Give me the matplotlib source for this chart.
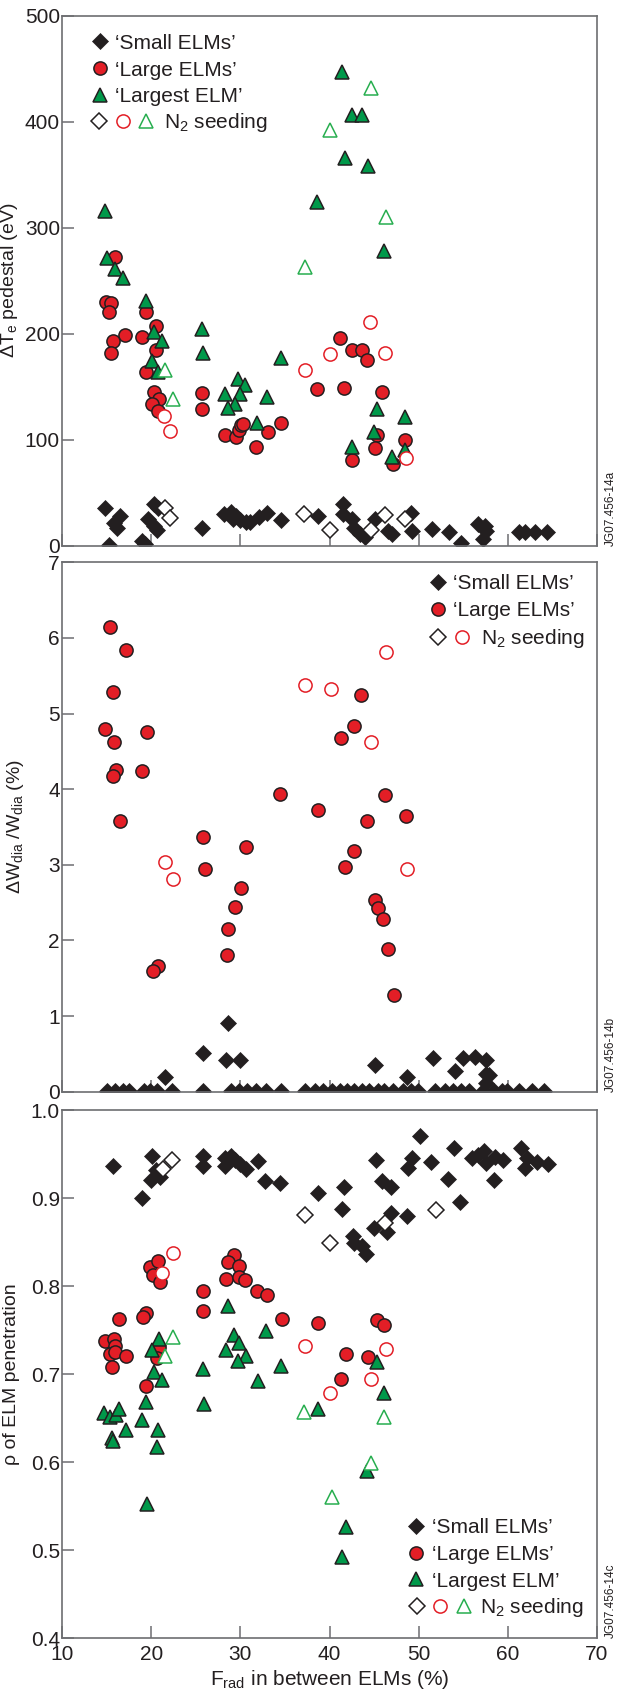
import matplotlib
matplotlib.use("Agg")
import matplotlib.pyplot as plt
from matplotlib.lines import Line2D
from matplotlib.legend_handler import HandlerTuple

plt.rcParams['font.family'] = ['Liberation Sans', 'DejaVu Sans']
plt.rcParams['mathtext.fontset'] = 'custom'
plt.rcParams['mathtext.rm'] = 'Liberation Sans'
plt.rcParams['mathtext.it'] = 'Liberation Sans:italic'
plt.rcParams['mathtext.default'] = 'regular'

# ---- panel a: delta Te pedestal (eV) ----
small_x1 = [14.8, 16.5, 15.8, 16.2, 15.3, 20.3, 20.8, 19.6, 20.3, 20.7, 19.0, 19.3, 25.7,
            28.2, 28.9, 29.5, 30.0, 30.6, 29.2, 31.1, 32.1, 33.0, 34.6, 38.7, 41.5, 41.5,
            42.5, 42.8, 43.4, 44.0, 45.1, 46.6, 47.0, 49.1, 49.2, 51.5, 53.4, 54.7, 56.7,
            57.4, 57.6, 57.2, 61.3, 61.9, 63.0, 64.4]
small_y1 = [36, 28, 21, 17, 1, 39, 36, 25, 19, 15, 4, 2, 17,
            30, 32, 28, 24, 22, 25, 22, 27, 31, 24, 28, 39, 30,
            25, 17, 11, 8, 25, 14, 11, 31, 14, 16, 13, 3, 20,
            19, 14, 6, 13, 13, 13, 13]
small_n2_x1 = [21.5, 22.1, 37.1, 40.1, 44.7, 46.2, 48.5]
small_n2_y1 = [36, 26, 30, 15, 15, 29, 25]

large_x1 = [14.9, 15.5, 15.3, 15.96, 19.46, 20.58, 17.08, 18.96, 15.73, 15.5, 20.58, 19.37,
            20.27, 20.9, 20.1, 20.76, 25.7, 25.7, 28.25, 29.5, 29.86, 30.1, 30.3, 31.74,
            33.05, 34.57, 38.6, 41.2, 41.65, 42.5, 43.7, 44.2, 45.9, 45.3, 45.1, 42.55,
            47.1, 48.5]
large_y1 = [230, 229, 220, 272, 220, 207, 199, 197, 193, 182, 185, 164,
            145, 138, 134, 127, 144, 129, 104, 103, 109, 114, 115, 93,
            107, 116, 148, 196, 149, 185, 185, 175, 145, 104, 92, 81,
            77, 100]
large_n2_x1 = [44.5, 40.1, 46.2, 37.3, 21.4, 22.1, 48.6]
large_n2_y1 = [211, 181, 182, 166, 122, 108, 83]

largest_x1 = [41.4, 42.5, 43.7, 41.75, 44.3, 38.6, 14.8, 46.1, 15.06, 15.96, 16.86, 19.4,
              20.36, 21.2, 20.04, 20.8, 25.74, 25.76, 34.57, 29.73, 30.5, 28.3, 30.0, 29.4,
              28.6, 33.0, 31.9, 45.3, 45.0, 48.5, 42.55, 47.0, 48.5]
largest_y1 = [447, 406, 406, 366, 358, 324, 316, 278, 271, 261, 253, 231,
              202, 193, 174, 164, 204, 182, 177, 157, 152, 143, 143, 134,
              130, 140, 116, 129, 107, 121, 93, 84, 90]
largest_n2_x1 = [44.7, 40.0, 46.3, 37.2, 21.57, 22.4]
largest_n2_y1 = [432, 392, 310, 263, 166, 138]

# ---- panel b: delta W_dia / W_dia (%) ----
small_x2 = [15.1, 15.9, 16.8, 17.5, 19.2, 19.9, 20.6, 22.3, 25.8, 29.0, 29.9, 30.8, 31.8,
            32.9, 34.6, 37.3, 38.4, 39.3, 40.3, 41.2, 42.0, 42.7, 43.7, 44.4, 45.4, 46.1,
            47.1, 48.2, 49.1, 49.9, 51.8, 52.9, 53.9, 54.8, 55.7, 57.2, 58.4, 59.3, 59.9,
            61.2, 62.7, 64.0,
            28.65, 25.83, 28.43, 29.95, 21.57, 45.1, 48.7, 51.56, 54.07, 54.97, 56.3, 57.6,
            57.5, 57.9, 57.5]
small_y2 = [0.01] * 42 + [0.91, 0.51, 0.42, 0.42, 0.19, 0.35, 0.19, 0.45, 0.27, 0.44,
                          0.46, 0.42, 0.23, 0.22, 0.12]

large_x2 = [15.42, 17.17, 15.69, 14.84, 19.55, 15.87, 16.05, 15.69, 18.96, 16.55, 25.8,
            34.43, 38.74, 43.54, 42.73, 41.3, 46.23, 44.2, 48.6, 26.05, 30.67, 30.09, 29.41,
            28.6, 28.5, 20.8, 20.2, 41.75, 42.7, 45.1, 45.4, 46.0, 46.6, 47.27]
large_y2 = [6.14, 5.84, 5.29, 4.80, 4.75, 4.63, 4.25, 4.17, 4.24, 3.58, 3.37,
            3.94, 3.72, 5.25, 4.84, 4.68, 3.92, 3.58, 3.65, 2.94, 3.24, 2.69, 2.44,
            2.15, 1.81, 1.66, 1.59, 2.97, 3.18, 2.54, 2.43, 2.29, 1.89, 1.28]
large_n2_x2 = [37.26, 40.2, 46.3, 44.6, 21.57, 22.4, 48.7]
large_n2_y2 = [5.38, 5.32, 5.82, 4.63, 3.04, 2.81, 2.95]

# ---- panel c: rho of ELM penetration ----
small_x3 = [15.73, 20.1, 19.0, 20.5, 20.0, 21.0, 25.83, 25.83, 28.3, 28.9, 28.3, 29.4, 30.0,
            30.6, 32.0, 32.8, 34.5, 38.74, 41.66, 41.4, 42.6, 42.8, 43.6, 44.1, 45.0, 45.17,
            45.9, 46.5, 46.87, 46.87, 48.7, 48.76, 49.25, 50.2, 51.4, 53.3, 53.98, 54.6,
            56.0, 56.6, 57.3, 57.6, 58.5, 58.6, 59.5, 61.5, 61.9, 62.2, 63.3, 64.5]
small_y3 = [0.936, 0.948, 0.900, 0.932, 0.920, 0.924, 0.948, 0.936, 0.946, 0.948, 0.936, 0.943,
            0.939, 0.933, 0.942, 0.919, 0.917, 0.906, 0.913, 0.888, 0.857, 0.849, 0.846, 0.837,
            0.866, 0.943, 0.919, 0.862, 0.913, 0.883, 0.880, 0.934, 0.945, 0.970, 0.941, 0.922,
            0.957, 0.895, 0.946, 0.949, 0.953, 0.940, 0.921, 0.947, 0.943, 0.957, 0.934, 0.946,
            0.941, 0.939]
small_n2_x3 = [21.3, 22.3, 37.26, 40.1, 46.2, 51.95]
small_n2_y3 = [0.933, 0.943, 0.881, 0.849, 0.872, 0.886]

large_x3 = [29.3, 28.6, 29.86, 28.43, 29.86, 30.5, 31.9, 33.0, 25.83, 25.83, 34.7, 38.74,
            19.9, 20.8, 20.2, 21.0, 16.4, 19.4, 19.1, 14.84, 15.83, 15.9, 15.42, 15.96, 17.2,
            15.65, 20.9, 20.67, 19.46, 41.84, 44.3, 41.3, 45.33, 46.14]
large_y3 = [0.835, 0.827, 0.823, 0.808, 0.810, 0.807, 0.794, 0.790, 0.794, 0.772, 0.763, 0.758,
            0.822, 0.828, 0.813, 0.805, 0.763, 0.770, 0.765, 0.738, 0.740, 0.732, 0.723, 0.725,
            0.721, 0.708, 0.731, 0.718, 0.687, 0.723, 0.720, 0.695, 0.762, 0.756]
large_n2_x3 = [22.4, 21.2, 37.2, 46.3, 44.66, 40.0]
large_n2_y3 = [0.838, 0.8145, 0.732, 0.728, 0.694, 0.679]

largest_x3 = [28.6, 29.3, 29.86, 28.43, 30.6, 29.7, 32.9, 25.83, 34.57, 32.0, 20.9, 20.1,
              20.3, 21.2, 45.3, 46.1, 14.75, 15.4, 16.0, 16.4, 19.4, 19.0, 17.2, 15.6, 15.7,
              20.76, 20.6, 19.55, 25.96, 38.7, 44.2, 41.9, 41.4]
largest_y3 = [0.777, 0.745, 0.735, 0.727, 0.721, 0.715, 0.749, 0.706, 0.709, 0.692, 0.740, 0.727,
              0.702, 0.693, 0.714, 0.679, 0.656, 0.651, 0.654, 0.660, 0.668, 0.648, 0.637, 0.628,
              0.624, 0.637, 0.617, 0.553, 0.666, 0.660, 0.590, 0.526, 0.492]
largest_n2_x3 = [22.46, 21.6, 37.1, 46.1, 44.66, 40.3]
largest_n2_y3 = [0.742, 0.721, 0.657, 0.651, 0.599, 0.560]

x_ticks = [10, 20, 30, 40, 50, 60, 70]
y_ticks1 = [0, 100, 200, 300, 400, 500]
y_ticks2 = [0, 1, 2, 3, 4, 5, 6, 7]
y_ticks3 = [0.4, 0.5, 0.6, 0.7, 0.8, 0.9, 1.0]
y_ticklabels3 = ['0.4', '0.5', '0.6', '0.7', '0.8', '0.9', '1.0']

BLACK = '#231f20'
RED = '#e31e26'
GREEN = '#00994a'
GREEN_OPEN = '#27ae4f'
AXC = '#6d6e71'
FS = 15

small = dict(ls='none', marker='D', ms=8, mfc=BLACK, mec=BLACK, mew=0.5)
small_open = dict(ls='none', marker='D', ms=8, mfc='white', mec=BLACK, mew=1.1)
large = dict(ls='none', marker='o', ms=9.5, mfc=RED, mec=BLACK, mew=1.1)
large_open = dict(ls='none', marker='o', ms=9.5, mfc='white', mec=RED, mew=1.1)
largest = dict(ls='none', marker='^', ms=10, mfc=GREEN, mec=BLACK, mew=1.1)
largest_open = dict(ls='none', marker='^', ms=10, mfc='white', mec=GREEN_OPEN, mew=1.1)

W, H = 620, 1694
fig = plt.figure(figsize=(W / 100, H / 100), dpi=100)
L, R = 62, 597


def make_ax(top, bot):
    ax = fig.add_axes([L / W, 1 - bot / H, (R - L) / W, (bot - top) / H])
    for s in ax.spines.values():
        s.set_color(AXC)
        s.set_linewidth(1.2)
    ax.tick_params(direction='in', length=8.5, width=1.1, color=AXC,
                   labelsize=FS, labelcolor=BLACK)
    ax.tick_params(axis='y', pad=1.5)
    ax.tick_params(axis='x', pad=5)
    ax.set_xlim(10, 70)
    ax.set_xticks(x_ticks)
    return ax


def legends(ax, kinds, n2_kinds, a_pos, b_pos, hl_b, tp_b):
    names = {'small': ('\u2018Small ELMs\u2019', small),
             'large': ('\u2018Large ELMs\u2019', large),
             'largest': ('\u2018Largest ELM\u2019', largest)}
    hs = [Line2D([], [], **names[k][1]) for k in kinds]
    lab = [names[k][0] for k in kinds]
    leg = ax.legend(hs, lab, loc='center left', bbox_to_anchor=a_pos, frameon=False,
                    fontsize=FS, borderpad=0, borderaxespad=0, handlelength=0.8,
                    handletextpad=0.35, labelspacing=0.38, labelcolor=BLACK)
    ax.add_artist(leg)
    tup = tuple(Line2D([], [], **st) for st in n2_kinds)
    ax.legend([tup], ['N$_2$ seeding'], loc='center left', bbox_to_anchor=b_pos,
              frameon=False, fontsize=FS, borderpad=0, borderaxespad=0,
              handlelength=hl_b, handletextpad=tp_b, labelcolor=BLACK,
              handler_map={tuple: HandlerTuple(ndivide=None, pad=0)})


# panel a
ax1 = make_ax(15.7, 545.7)
ax1.plot(small_x1, small_y1, **small)
ax1.plot(large_x1, large_y1, **large)
ax1.plot(largest_x1, largest_y1, **largest)
ax1.plot(largest_n2_x1, largest_n2_y1, **largest_open)
ax1.plot(large_n2_x1, large_n2_y1, **large_open)
ax1.plot(small_n2_x1, small_n2_y1, **small_open)
ax1.set_ylim(0, 500)
ax1.set_yticks(y_ticks1)
ax1.tick_params(labelbottom=False)
ax1.set_ylabel('\u0394T$_{e}$ pedestal (eV)', fontsize=14, color=BLACK)
ax1.yaxis.set_label_coords(-0.079, 0.5)
legends(ax1, ['small', 'large', 'largest'], [small_open, large_open, largest_open],
        (0.0546, 0.8975), (0.0481, 0.798), 3.38, 0.276)

# panel b
ax2 = make_ax(562.3, 1091.7)
ax2.plot(small_x2, small_y2, **small)
ax2.plot(large_x2, large_y2, **large)
ax2.plot(large_n2_x2, large_n2_y2, **large_open)
ax2.set_ylim(0, 7)
ax2.set_yticks(y_ticks2)
ax2.tick_params(labelbottom=False)
ax2.set_ylabel('\u0394W$_{dia}$ /W$_{dia}$ (%)', fontsize=14, color=BLACK)
ax2.yaxis.set_label_coords(-0.068, 0.5)
legends(ax2, ['small', 'large'], [small_open, large_open],
        (0.6866, 0.9345), (0.6799, 0.8564), 2.29, 0.348)

# panel c
ax3 = make_ax(1110, 1638.3)
ax3.plot(small_x3, small_y3, **small)
ax3.plot(large_x3, large_y3, **large)
ax3.plot(largest_x3, largest_y3, **largest)
ax3.plot(largest_n2_x3, largest_n2_y3, **largest_open)
ax3.plot(large_n2_x3, large_n2_y3, **large_open)
ax3.plot(small_n2_x3, small_n2_y3, **small_open)
ax3.set_ylim(0.4, 1.0)
ax3.set_yticks(y_ticks3)
ax3.set_yticklabels(y_ticklabels3)
ax3.set_ylabel('\u03c1 of ELM penetration', fontsize=14, color=BLACK)
ax3.yaxis.set_label_coords(-0.079, 0.5)
ax3.set_xlabel('F$_{rad}$ in between ELMs (%)', fontsize=FS, color=BLACK, labelpad=3)
legends(ax3, ['small', 'large', 'largest'], [small_open, large_open, largest_open],
        (0.6461, 0.159), (0.6409, 0.0579), 3.38, 0.247)

for ax, tag in [(ax1, 'a'), (ax2, 'b'), (ax3, 'c')]:
    y0 = ax.get_position().y0
    fig.text(611 / W, y0, 'JG07.456-14' + tag, rotation=90, ha='center', va='bottom',
             fontsize=8.5, color=BLACK)

fig.savefig('out.png', dpi=100)
